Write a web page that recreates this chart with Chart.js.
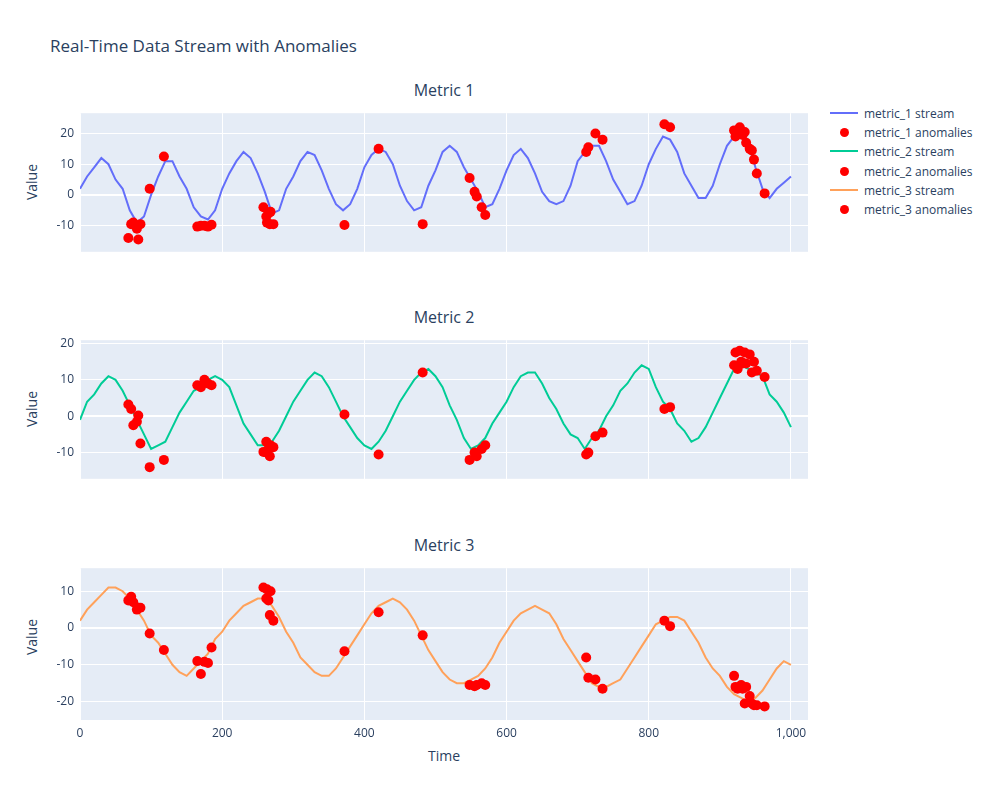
<!DOCTYPE html>
<html>
<head>
<meta charset="utf-8">
<script src="https://cdn.jsdelivr.net/npm/chart.js@4"></script>
<style>
body { margin:0; background:#fff; font-family:"Open Sans", "Noto Sans", sans-serif; color:#2a3f5f; }
#page { position:relative; width:1000px; height:800px; }
canvas { position:absolute; left:0; }
.t { position:absolute; white-space:nowrap; }
.sub { font-size:16px; transform:translateX(-50%); }
.yl { font-size:14px; transform:translate(-50%,-50%) rotate(-90deg); }
.leg { position:absolute; left:828px; font-size:12px; height:19px; line-height:19px; }
.leg span.sw { display:inline-block; width:30px; height:19px; vertical-align:top; position:relative; margin-right:6px; }
</style>
</head>
<body>
<div id="page">
  <div class="t" style="left:50px;top:34px;font-size:17px;">Real-Time Data Stream with Anomalies</div>
  <div class="t sub" style="left:444px;top:79px;">Metric 1</div>
  <div class="t sub" style="left:444px;top:306px;">Metric 2</div>
  <div class="t sub" style="left:444px;top:534px;">Metric 3</div>
  <div class="t yl" style="left:31px;top:182px;">Value</div>
  <div class="t yl" style="left:31px;top:409px;">Value</div>
  <div class="t yl" style="left:31px;top:637px;">Value</div>
  <div class="t" style="left:444px;top:746px;font-size:14px;transform:translateX(-50%);">Time</div>
  <div id="legend"></div>
  <canvas id="c1"></canvas>
  <canvas id="c2"></canvas>
  <canvas id="c3"></canvas>
</div>
<script>
// time axis sampled every 10 steps
const times = [];
for (let t = 0; t <= 1000; t += 10) times.push(t);

const metric1 = [2,6,9,12,10,5,2,-5,-9,-7,0,6,11,11,6,2,-4,-7,-8,-5,
  2,7,11,14,12,7,1,-6,-5,2,6,11,14,13,8,2,-3,-5,-3,2,
  9,13,15,14,10,3,-2,-5,-4,3,8,14,16,14,9,5,1,-4,-3,2,
  8,13,15,12,7,1,-2,-3,-2,3,11,14,16,16,11,5,1,-3,-2,3,
  10,15,19,18,14,7,3,-1,-1,3,10,16,19,21,17,9,2,-1,2,4,6];
const metric2 = [-1,4,6,9,11,10,7,3,-1,-5,-9,-8,-7,-3,1,4,7,8,10,11,
  10,8,3,-2,-5,-8,-8,-7,-4,0,4,7,10,12,11,8,4,0,-3,-6,
  -8,-9,-7,-4,0,4,7,10,12,13,11,8,3,-1,-6,-9,-8,-6,-2,1,
  4,8,11,12,12,9,5,2,-2,-5,-6,-9,-6,-4,0,3,7,9,12,14,
  13,8,4,2,-2,-4,-7,-6,-3,1,5,9,13,14,13,12,11,6,4,1,-3];
const metric3 = [2,5,7,9,11,11,10,8,5,2,-2,-4,-7,-10,-12,-13,-11,-9,-7,-3,
  -1,2,4,6,7,8,8,6,3,-1,-4,-8,-10,-12,-13,-13,-11,-8,-5,-2,
  1,4,6,7,8,7,5,2,-2,-6,-9,-12,-14,-15,-15,-14,-13,-11,-8,-4,
  -1,2,4,5,6,5,4,1,-3,-6,-9,-12,-15,-16,-16,-15,-14,-11,-8,-5,
  -2,1,2,3,3,2,-1,-4,-8,-11,-13,-16,-18,-19,-20,-19,-17,-14,-11,-9,-10];

const anomalyTimes = [68,72,75,80,82,85,98,118,165,170,175,180,185,258,262,263,265,267,268,272,
  372,420,482,548,555,558,565,570,712,715,725,735,822,830,
  920,922,925,928,930,932,935,937,942,945,948,952,963];
const anomalies1 = [-14,-9.5,-9,-11,-14.5,-9.5,2,12.5,-10.3,-10,-10,-10.3,-9.7,-4,-7,-9,-6,-9.5,-5.5,-9.5,
  -9.8,15,-9.5,5.5,1,-0.5,-4,-6.5,14,15.5,20,18,23,22,
  21,19,20,22,21,19.5,20.5,17,15,14.5,11.5,7,0.5];
const anomalies2 = [3.2,2,-2.5,-1.5,0.2,-7.5,-14,-12,8.5,8,10,9,8.5,-9.8,-7,-10,-9,-11,-8,-8.5,
  0.5,-10.5,12,-12,-10,-11,-9,-8,-10.5,-10,-5.5,-4.5,2,2.5,
  14,17.5,13,18,15,14.5,17.5,14.5,17,12,15,12.5,10.8];
const anomalies3 = [7.5,8.5,7,5,5.5,5.5,-1.5,-6,-9,-12.5,-9.2,-9.5,-5.3,11,8,10.5,7.5,3.5,10,2,
  -6.3,4.3,-2,-15.5,-15.8,-15.5,-15,-15.5,-8,-13.5,-14,-16.5,2,0.5,
  -13,-16,-16.5,-16,-15.5,-16.5,-20.5,-16,-18.5,-20.5,-21,-21,-21.3];

const xTicks = [0, 200, 400, 600, 800, 1000];
const yTicks1 = [-10, 0, 10, 20];
const yTicks2 = [-10, 0, 10, 20];
const yTicks3 = [-20, -10, 0, 10];

const seriesNames = ['metric_1 stream','metric_1 anomalies','metric_2 stream','metric_2 anomalies','metric_3 stream','metric_3 anomalies'];
const streamColors = ['#636efa','#00cc96','#ffa15a'];

const bgPlugin = {
  id: 'bg',
  beforeDraw(chart) {
    const a = chart.chartArea, c = chart.ctx;
    c.save(); c.fillStyle = '#E5ECF6'; c.fillRect(a.left, a.top, a.right - a.left, a.bottom - a.top); c.restore();
  }
};

function makeChart(id, top, height, stream, anom, color, ymin, ymax, yTicks, showX) {
  const cv = document.getElementById(id);
  cv.width = 1000; cv.height = height; cv.style.top = top + 'px';
  new Chart(cv, {
    type: 'line',
    data: {
      datasets: [
        { data: anom.map((v, i) => ({x: anomalyTimes[i], y: v})), showLine: false,
          pointRadius: 5, pointBackgroundColor: '#ff0000', pointBorderWidth: 0 },
        { data: stream.map((v, i) => ({x: times[i], y: v})), borderColor: color,
          borderWidth: 2, pointRadius: 0, tension: 0 }
      ]
    },
    options: {
      responsive: false, animation: false,
      layout: { padding: { left: 40, right: 192, top: 0, bottom: 0 } },
      plugins: { legend: { display: false }, tooltip: { enabled: false } },
      scales: {
        x: {
          type: 'linear', min: 0, max: 1024,
          afterBuildTicks: s => { s.ticks = xTicks.map(v => ({ value: v })); },
          afterFit: s => { s.height = showX ? 25 : 0; },
          ticks: { display: showX, autoSkip: false, color: '#2a3f5f', font: { family: 'Open Sans', size: 12 }, padding: 6, maxRotation: 0 },
          grid: { color: '#ffffff', lineWidth: 1, drawTicks: false },
          border: { display: false }
        },
        y: {
          min: ymin, max: ymax,
          afterBuildTicks: s => { s.ticks = yTicks.map(v => ({ value: v })); },
          afterFit: s => { s.width = 40; },
          ticks: { autoSkip: false, color: '#2a3f5f', font: { family: 'Open Sans', size: 12 }, padding: 6 },
          grid: { color: '#ffffff', lineWidth: c => c.tick && c.tick.value === 0 ? 2 : 1, drawTicks: false },
          border: { display: false }
        }
      }
    },
    plugins: [bgPlugin]
  });
}

makeChart('c1', 100, 165, metric1, anomalies1, streamColors[0], -18.5, 26.6, yTicks1, false);
makeChart('c2', 327, 165, metric2, anomalies2, streamColors[1], -17.2, 20.9, yTicks2, false);
makeChart('c3', 555, 190, metric3, anomalies3, streamColors[2], -25, 16.25, yTicks3, true);

// legend
const leg = document.getElementById('legend');
seriesNames.forEach((name, i) => {
  const d = document.createElement('div');
  d.className = 'leg';
  d.style.top = (104 + i * 19.2) + 'px';
  const sw = i % 2 === 0
    ? '<span class="sw"><span style="position:absolute;left:2px;top:8px;width:28px;height:2px;background:' + streamColors[i / 2] + '"></span></span>'
    : '<span class="sw"><span style="position:absolute;left:12px;top:5px;width:9px;height:9px;border-radius:50%;background:#ff0000"></span></span>';
  d.innerHTML = sw + name;
  leg.appendChild(d);
});
</script>
</body>
</html>
